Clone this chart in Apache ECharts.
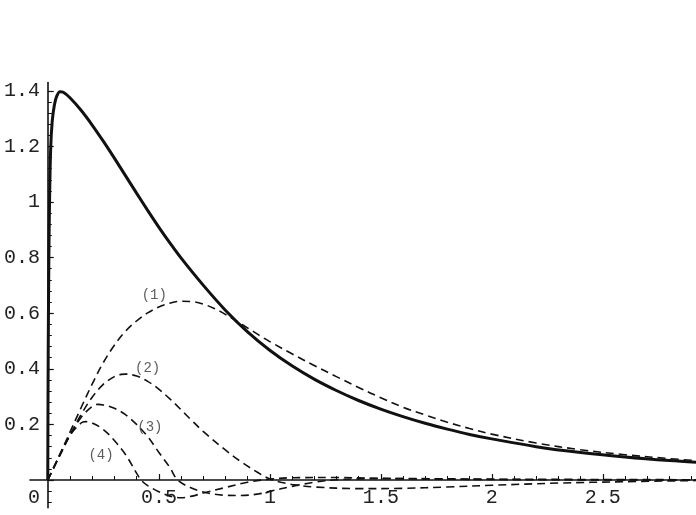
<!DOCTYPE html>
<html>
<head>
<meta charset="utf-8">
<script src="https://cdn.jsdelivr.net/npm/echarts@6/dist/echarts.min.js"></script>
<style>
  html, body { margin: 0; padding: 0; background: #fff; }
  #main { width: 696px; height: 515px; }
</style>
</head>
<body>
<div id="main"></div>
<script>
"use strict";
// values
var solidX = [0, 0.002, 0.005, 0.008, 0.013, 0.02, 0.03, 0.04, 0.055, 0.07, 0.1, 0.15, 0.2, 0.25, 0.3, 0.35, 0.4, 0.45, 0.5, 0.55, 0.6, 0.7, 0.8, 0.9, 1.0, 1.1, 1.2, 1.3, 1.4, 1.5, 1.6, 1.7, 1.8, 1.9, 2.0, 2.2, 2.4, 2.6, 2.8, 2.92];
var solidY = [0, 0.45, 0.8, 1.0, 1.19, 1.29, 1.35, 1.38, 1.397, 1.395, 1.375, 1.33, 1.277, 1.219, 1.158, 1.095, 1.032, 0.97, 0.91, 0.853, 0.799, 0.701, 0.611, 0.533, 0.467, 0.411, 0.363, 0.322, 0.286, 0.255, 0.228, 0.204, 0.183, 0.164, 0.148, 0.12, 0.099, 0.083, 0.07, 0.064];

var c1X = [0, 0.05, 0.1, 0.15, 0.2, 0.25, 0.3, 0.35, 0.4, 0.45, 0.5, 0.55, 0.6, 0.65, 0.7, 0.75, 0.8, 0.85, 0.9, 0.95, 1.0, 1.1, 1.2, 1.3, 1.4, 1.5, 1.6, 1.7, 1.8, 1.9, 2.0, 2.2, 2.4, 2.6, 2.8, 2.92];
var c1Y = [0, 0.085, 0.172, 0.26, 0.345, 0.422, 0.485, 0.535, 0.572, 0.601, 0.622, 0.636, 0.643, 0.642, 0.633, 0.617, 0.596, 0.572, 0.547, 0.522, 0.498, 0.454, 0.412, 0.372, 0.333, 0.296, 0.262, 0.234, 0.208, 0.185, 0.165, 0.133, 0.109, 0.091, 0.077, 0.07];

var c2X = [0, 0.05, 0.1, 0.15, 0.2, 0.25, 0.3, 0.33, 0.35, 0.4, 0.45, 0.5, 0.55, 0.6, 0.65, 0.7, 0.8, 0.87, 0.95, 1.0, 1.05, 1.1, 1.2, 1.4, 1.6, 1.8, 2.0, 2.3, 2.6, 2.92];
var c2Y = [0, 0.082, 0.162, 0.235, 0.298, 0.344, 0.372, 0.38, 0.381, 0.374, 0.355, 0.327, 0.292, 0.253, 0.213, 0.175, 0.108, 0.066, 0.025, 0.004, -0.008, -0.016, -0.025, -0.031, -0.03, -0.025, -0.019, -0.011, -0.006, -0.002];

var c3X = [0, 0.05, 0.1, 0.15, 0.2, 0.225, 0.25, 0.3, 0.35, 0.4, 0.45, 0.5, 0.55, 0.585, 0.65, 0.7, 0.75, 0.8, 0.87, 0.95, 1.0, 1.1, 1.2, 1.3, 1.4, 1.6, 2.0, 2.92];
var c3Y = [0, 0.082, 0.16, 0.225, 0.265, 0.272, 0.27, 0.258, 0.235, 0.2, 0.156, 0.1, 0.045, 0, -0.03, -0.043, -0.051, -0.055, -0.056, -0.05, -0.041, -0.023, -0.008, 0.001, 0.004, 0.005, 0.003, 0.001];

var c4X = [0, 0.05, 0.1, 0.15, 0.17, 0.2, 0.25, 0.3, 0.35, 0.4, 0.42, 0.45, 0.5, 0.55, 0.6, 0.65, 0.7, 0.8, 0.9, 1.0, 1.1, 1.3, 1.5, 1.8, 2.2, 2.92];
var c4Y = [0, 0.082, 0.16, 0.205, 0.21, 0.205, 0.182, 0.142, 0.092, 0.025, 0, -0.02, -0.042, -0.058, -0.064, -0.058, -0.047, -0.027, -0.008, 0.003, 0.008, 0.009, 0.006, 0.003, 0.001, 0];

var tagNames = ['(1)', '(2)', '(3)', '(4)'];
var tagX = [0.48, 0.45, 0.46, 0.24];
var tagY = [0.665, 0.403, 0.19, 0.09];

var xTicks = [0.5, 1, 1.5, 2, 2.5];
var yTicks = [0, 0.2, 0.4, 0.6, 0.8, 1, 1.2, 1.4];

function pairs(xs, ys){
    var out = [];
    for (var i = 0; i < xs.length; i++) out.push([xs[i], ys[i]]);
    return out;
}

// minor ticks: x every 0.1, y every 0.04
function minorList(from, to, step, majors){
    var out = [];
    for (var v = from; v <= to + 1e-9; v += step){
        var r = Math.round(v * 1000) / 1000;
        if (majors.indexOf(r) < 0) out.push(r);
    }
    return out;
}
var xMinor = minorList(0.1, 2.9, 0.1, xTicks.concat([0]));
var yMinor = minorList(-0.08, 1.4, 0.04, yTicks);

var XMIN = -0.08, XMAX = 2.92, YMIN = -0.1, YMAX = 1.43;
var font = "'Liberation Mono', 'DejaVu Sans Mono', monospace";
var ink = '#111';

var dashed = { color: ink, width: 1.6, type: [8, 5] };

function curve(name, xs, ys, style, z){
    return { type: 'line', name: name, xAxisIndex: 0, yAxisIndex: 0, data: pairs(xs, ys),
             showSymbol: false, smooth: 0.35, lineStyle: style, z: z || 2 };
}

var option = {
    animation: false,
    backgroundColor: '#fff',
    grid: [
        // data grid, full extents incl. negative side
        { left: 30, right: 0, top: 82.5, bottom: 7.2, containLabel: false, outerBoundsMode: 'none' },
        // label grid, edges sit on the zero lines
        { left: 48, right: 0, top: 82.5, bottom: 35, containLabel: false, outerBoundsMode: 'none' }
    ],
    xAxis: [{
        type: 'value', gridIndex: 0, min: XMIN, max: XMAX, position: 'bottom',
        axisLine: { onZero: true, onZeroAxisIndex: 0, lineStyle: { color: ink, width: 1.6 } },
        axisTick: { show: true, inside: true, length: 6, customValues: xTicks, lineStyle: { color: ink, width: 1.2 } },
        axisLabel: { show: false },
        splitLine: { show: false }
    }, {
        type: 'value', gridIndex: 0, min: XMIN, max: XMAX, position: 'bottom',
        axisLine: { show: false, onZero: true, onZeroAxisIndex: 1 },
        axisTick: { show: true, inside: true, length: 4, customValues: xMinor, lineStyle: { color: ink, width: 1 } },
        axisLabel: { show: false },
        splitLine: { show: false }
    }, {
        type: 'value', gridIndex: 1, min: 0, max: XMAX, position: 'bottom',
        axisLine: { show: false, onZero: false },
        axisTick: { show: false },
        axisLabel: { customValues: xTicks, margin: 8, color: '#222', fontFamily: font, fontSize: 20 },
        splitLine: { show: false }
    }],
    yAxis: [{
        type: 'value', gridIndex: 0, min: YMIN, max: YMAX, position: 'left',
        axisLine: { show: true, onZero: true, onZeroAxisIndex: 0, lineStyle: { color: ink, width: 1.6 } },
        axisTick: { show: true, inside: true, length: 6, customValues: yTicks, lineStyle: { color: ink, width: 1.2 } },
        axisLabel: { show: false },
        splitLine: { show: false }
    }, {
        type: 'value', gridIndex: 0, min: YMIN, max: YMAX, position: 'left',
        axisLine: { show: false, onZero: true, onZeroAxisIndex: 1 },
        axisTick: { show: true, inside: true, length: 4, customValues: yMinor, lineStyle: { color: ink, width: 1 } },
        axisLabel: { show: false },
        splitLine: { show: false }
    }, {
        type: 'value', gridIndex: 1, min: 0, max: YMAX, position: 'left',
        axisLine: { show: false, onZero: false },
        axisTick: { show: false },
        axisLabel: {
            customValues: yTicks, margin: 8, color: '#222', fontFamily: font, fontSize: 20,
            formatter: function(v){
                if (v === 0) return '{o|0}';
                return String(v);
            },
            rich: { o: { fontFamily: font, fontSize: 20, color: '#222', padding: [36, 0, 0, 0] } }
        },
        splitLine: { show: false }
    }],
    series: [
        curve('total', solidX, solidY, { color: ink, width: 3 }, 5),
        curve('(1)', c1X, c1Y, dashed),
        curve('(2)', c2X, c2Y, dashed),
        curve('(3)', c3X, c3Y, dashed),
        curve('(4)', c4X, c4Y, dashed),
        {
            type: 'scatter', name: 'tags', xAxisIndex: 0, yAxisIndex: 0, symbolSize: 1,
            itemStyle: { color: 'rgba(0,0,0,0)' },
            data: tagNames.map(function(n, i){ return [tagX[i], tagY[i], n]; }),
            label: {
                show: true, position: 'inside', color: '#333', fontFamily: font, fontSize: 14,
                formatter: function(p){ return p.data[2]; }
            }
        }
    ]
};

var myChart = echarts.init(document.getElementById('main'));
myChart.setOption(option, true);
</script>
</body>
</html>
